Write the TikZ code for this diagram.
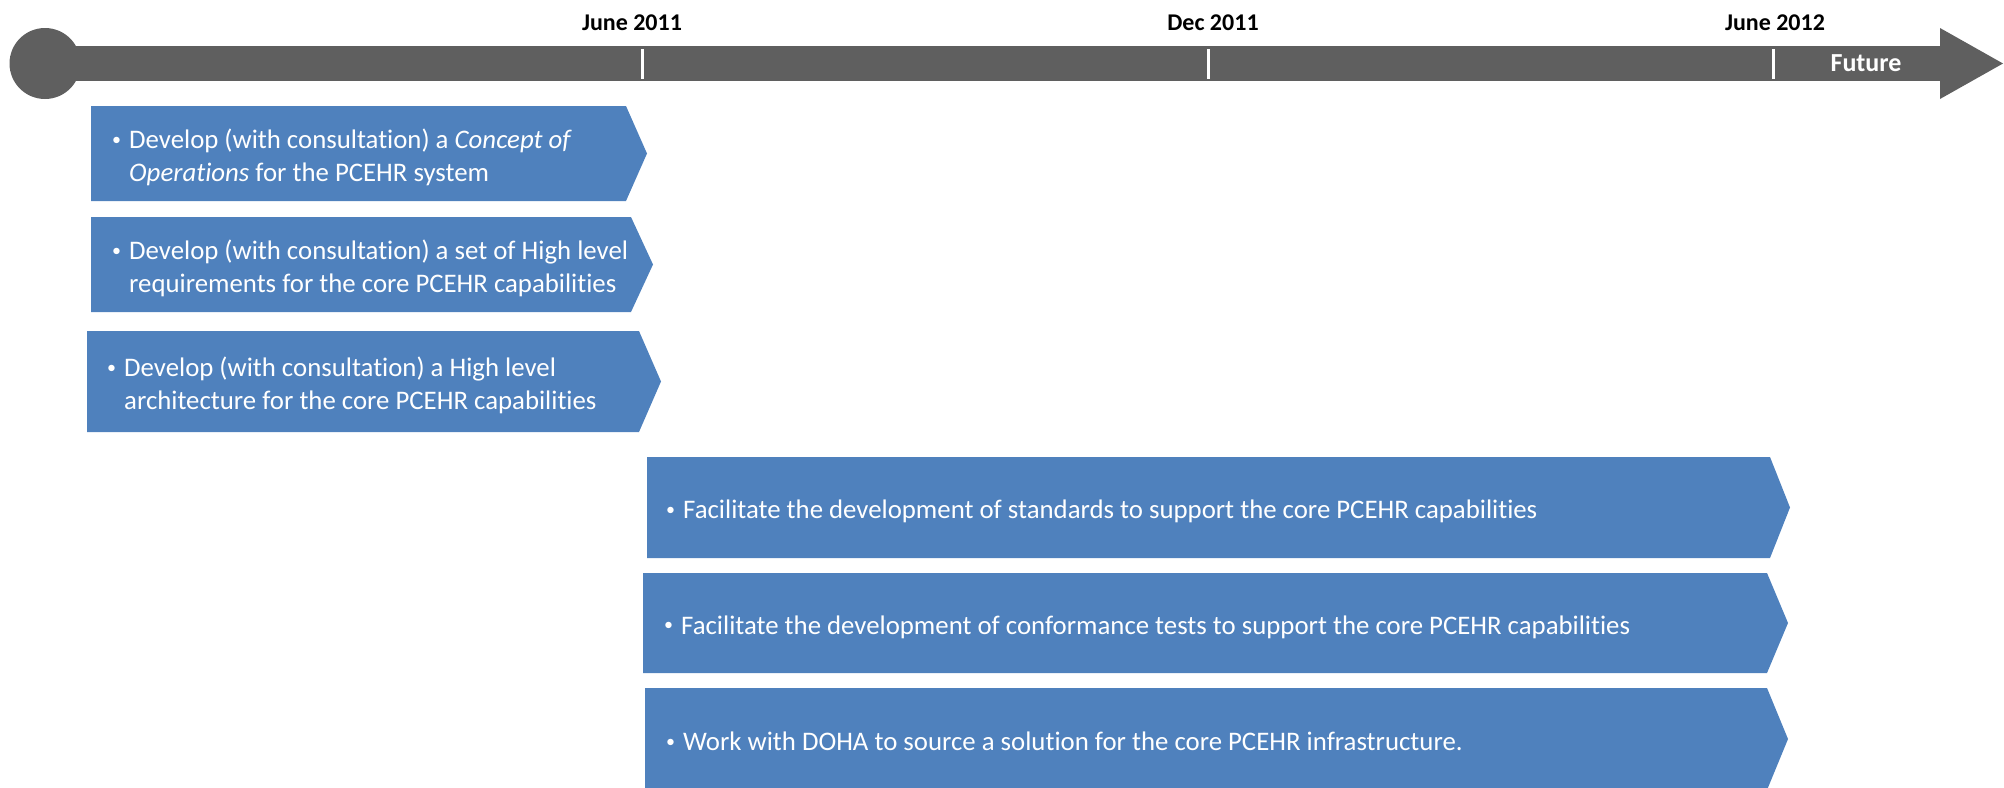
\documentclass[tikz,border=0pt]{standalone}
\usepackage{fontspec}
\setmainfont{Carlito}[Ligatures=NoCommon]
\definecolor{bargray}{RGB}{95,95,95}
\definecolor{boxblue}{RGB}{79,129,189}
\newcommand\bul{\makebox[17pt][l]{\raisebox{3.5pt}{\fontsize{18}{18}\selectfont •}}}
\newcommand\chev[5]{\fill[boxfill] (#1,#2) -- (#3,#2) -- (#5,{(#2+#4)/2}) -- (#3,#4) -- (#1,#4) -- cycle;}
\begin{document}
\begin{tikzpicture}[x=1pt,y=-1pt,
  boxfill/.style={fill=boxblue},
  boxtext/.style={text=white, font=\fontsize{26.8}{33}\selectfont, align=left, anchor=west, inner sep=0pt},
  datelabel/.style={font=\bfseries\fontsize{24}{28}\selectfont, text=black, inner sep=0pt},
  tickmark/.style={draw=white, line width=3pt}]
\useasboundingbox (0,0) rectangle (2004,787);
% timeline
\fill[bargray] (45,63.5) circle (35.5pt);
\fill[bargray] (45,46) rectangle (1941,81);
\fill[bargray] (1940,28) -- (2003,63.5) -- (1940,99) -- cycle;
\coordinate (t1a) at (642,49); \coordinate (t1b) at (642,79);
\coordinate (t2a) at (1208,49); \coordinate (t2b) at (1208,79);
\coordinate (t3a) at (1773,49); \coordinate (t3b) at (1773,79);
\draw[tickmark] (t1a) -- (t1b);
\draw[tickmark] (t2a) -- (t2b);
\draw[tickmark] (t3a) -- (t3b);
\node[datelabel] (d1) at (632,23) {June 2011};
\node[datelabel] (d2) at (1213,23) {Dec 2011};
\node[datelabel] (d3) at (1775,23) {June 2012};
\node[datelabel, text=white, font=\bfseries\fontsize{26}{30}\selectfont] (fut) at (1866,63) {Future};
% boxes
\chev{91}{106}{626}{201}{647}
\chev{91}{217}{631}{312}{653}
\chev{87}{331}{639}{432}{661}
\chev{647}{457}{1770}{558}{1790}
\chev{643}{573}{1767}{673}{1788}
\chev{645}{688}{1767}{790}{1788}
\node[boxtext] (b1) at (112,157.5) {\bul Develop (with consultation) a \emph{Concept of}\\\hspace*{17pt}\emph{Operations} for the PCEHR system};
\node[boxtext] (b2) at (112,268.5) {\bul Develop (with consultation) a set of High level\\\hspace*{17pt}requirements for the core PCEHR capabilities};
\node[boxtext] (b3) at (107,385.5) {\bul Develop (with consultation) a High level\\\hspace*{17pt}architecture for the core PCEHR capabilities};
\node[boxtext] (b4) at (666,511.5) {\bul Facilitate the development of standards to support the core PCEHR capabilities};
\node[boxtext] (b5) at (664,627) {\bul Facilitate the development of conformance tests to support the core PCEHR capabilities};
\node[boxtext] (b6) at (666,741.5) {\bul Work with DOHA to source a solution for the core PCEHR infrastructure.};
\end{tikzpicture}
\end{document}
